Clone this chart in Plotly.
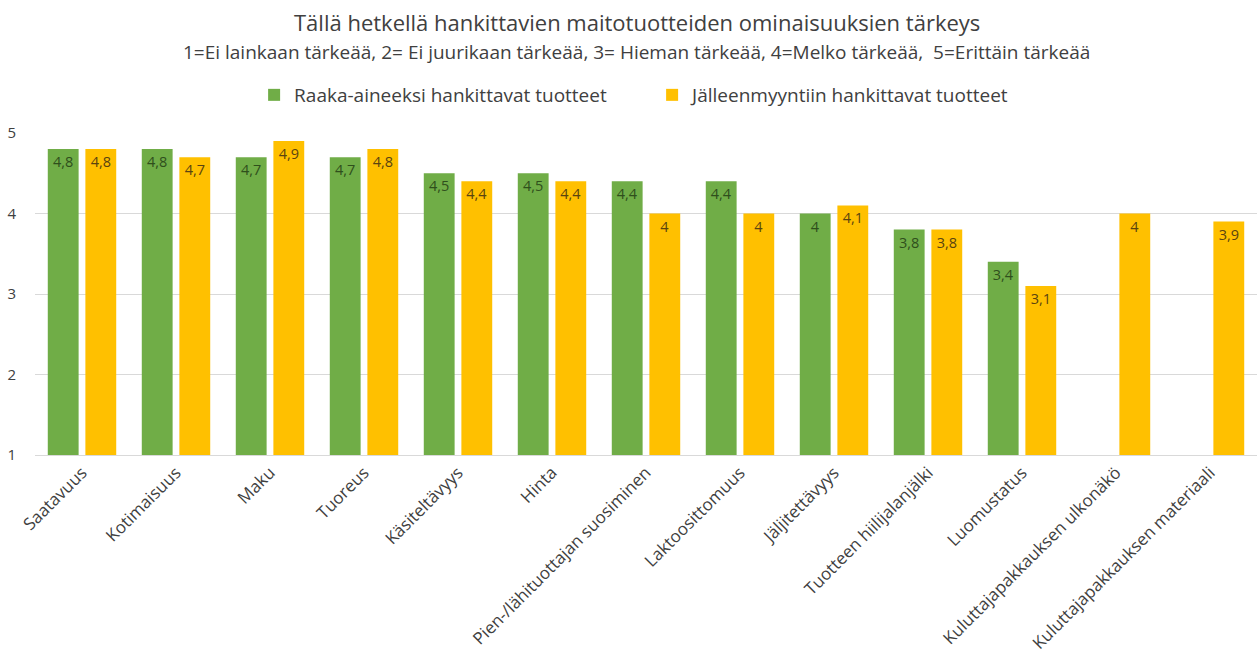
import plotly.graph_objects as go

categories = [
    "Saatavuus", "Kotimaisuus", "Maku", "Tuoreus", "Käsiteltävyys", "Hinta",
    "Pien-/lähituottajan suosiminen", "Laktoosittomuus", "Jäljitettävyys",
    "Tuotteen hiilijalanjälki", "Luomustatus", "Kuluttajapakkauksen ulkonäkö",
    "Kuluttajapakkauksen materiaali",
]
raaka_aine = [4.8, 4.8, 4.7, 4.7, 4.5, 4.5, 4.4, 4.4, 4.0, 3.8, 3.4, None, None]
jalleenmyynti = [4.8, 4.7, 4.9, 4.8, 4.4, 4.4, 4.0, 4.0, 4.1, 3.8, 3.1, 4.0, 3.9]
y_ticks = [1, 2, 3, 4, 5]

title_text = "Tällä hetkellä hankittavien maitotuotteiden ominaisuuksien tärkeys"
subtitle_text = ("1=Ei lainkaan tärkeää, 2= Ei juurikaan tärkeää, 3= Hieman tärkeää, "
                 "4=Melko tärkeää,  5=Erittäin tärkeää")

FONT = "Open Sans"


def fi_label(v):
    return "" if v is None else f"{v:g}".replace(".", ",")


fig = go.Figure()
fig.add_trace(go.Bar(
    name="Raaka-aineeksi hankittavat tuotteet",
    x=categories, y=raaka_aine,
    marker=dict(color="#70AD47", line=dict(width=0)),
    text=[fi_label(v) for v in raaka_aine],
    textposition="inside", insidetextanchor="end", textangle=0,
    textfont=dict(family=FONT, size=14.5, color="#2f4f1c"),
))
fig.add_trace(go.Bar(
    name="Jälleenmyyntiin hankittavat tuotteet",
    x=categories, y=jalleenmyynti,
    marker=dict(color="#FFC000", line=dict(width=0)),
    text=[fi_label(v) for v in jalleenmyynti],
    textposition="inside", insidetextanchor="end", textangle=0,
    textfont=dict(family=FONT, size=14.5, color="#5a4410"),
))

fig.update_layout(
    width=1260, height=664,
    margin=dict(l=35, r=3, t=133, b=209),
    paper_bgcolor="white", plot_bgcolor="white",
    barmode="group", bargap=0.2, bargroupgap=0.18,
    font=dict(family=FONT, color="#404040"),
    legend=dict(
        orientation="h", x=0.505, xanchor="center", y=1.118, yanchor="middle",
        font=dict(family=FONT, size=19, color="#404040"),
        traceorder="normal", itemwidth=30,
        entrywidth=353, entrywidthmode="pixels",
    ),
    showlegend=True,
    annotations=[
        dict(text=title_text, xref="paper", yref="paper", x=0.4926, y=1.3447,
             xanchor="center", yanchor="middle", showarrow=False,
             font=dict(family=FONT, size=22, color="#404040")),
        dict(text=subtitle_text, xref="paper", yref="paper", x=0.4926, y=1.2516,
             xanchor="center", yanchor="middle", showarrow=False,
             font=dict(family=FONT, size=19, color="#404040")),
    ],
)
fig.update_yaxes(
    range=[1, 5], tickvals=y_ticks, ticktext=[str(t) for t in y_ticks],
    showgrid=True, gridcolor="#d9d9d9", gridwidth=1,
    zeroline=False, showline=False, ticks="",
    tickfont=dict(family=FONT, size=15, color="#404040"),
    ticklabelstandoff=18,
)
fig.update_xaxes(
    tickangle=-45, showline=True, linecolor="#d9d9d9", ticks="",
    tickfont=dict(family=FONT, size=17, color="#404040"),
)

fig.write_html("out.html")
